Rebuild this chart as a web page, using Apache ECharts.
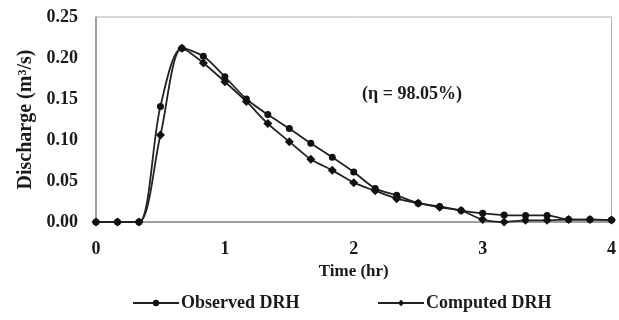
<!DOCTYPE html>
<html>
<head>
<meta charset="utf-8">
<script src="https://cdn.jsdelivr.net/npm/echarts@6/dist/echarts.min.js"></script>
<style>
  html, body { margin: 0; padding: 0; background: #fff; }
  #chart { width: 619px; height: 320px; }
</style>
</head>
<body>
<div id="chart"></div>
<script>
// time steps (hr), 10 min apart
const timeHr = [0, 1/6, 2/6, 3/6, 4/6, 5/6, 1, 7/6, 8/6, 9/6, 10/6, 11/6, 2,
  13/6, 14/6, 15/6, 16/6, 17/6, 3, 19/6, 20/6, 21/6, 22/6, 23/6, 4];
const observed = [0, 0, 0, 0.141, 0.212, 0.202, 0.177, 0.150, 0.131, 0.114, 0.096, 0.079, 0.061,
  0.041, 0.0325, 0.023, 0.019, 0.014, 0.0106, 0.0085, 0.008, 0.008, 0.003, 0.003, 0.0025];
const computed = [0, 0, 0, 0.106, 0.212, 0.194, 0.171, 0.147, 0.120, 0.098, 0.0765, 0.063, 0.048,
  0.038, 0.0285, 0.023, 0.018, 0.014, 0.003, 0, 0.002, 0.002, 0.003, 0.003, 0.0025];
const yTicks = ["0.00", "0.05", "0.10", "0.15", "0.20", "0.25"];

const font = "Liberation Serif";
const ink = "#1a1a1a";

const pairs = (ys) => ys.map((y, i) => [timeHr[i], y]);

const legendText = { fontFamily: font, fontWeight: "bold", fontSize: 18, color: ink, padding: [0, 0, 0, -3] };

const chart = echarts.init(document.getElementById("chart"));
chart.setOption({
  animation: false,
  grid: { left: 96, right: 6, top: 17, bottom: 98, show: true, borderColor: "#b0b0b0", borderWidth: 1 },
  legend: [
    { left: 132, top: 294, padding: 0, itemWidth: 46, itemHeight: 8, textStyle: legendText, data: ["Observed DRH"] },
    { left: 377, top: 294, padding: 0, itemWidth: 46, itemHeight: 8, textStyle: legendText, data: ["Computed DRH"] },
  ],
  xAxis: {
    type: "value",
    min: 0,
    max: 4,
    interval: 1,
    name: "Time (hr)",
    nameLocation: "middle",
    nameGap: 38,
    nameTextStyle: { fontFamily: font, fontWeight: "bold", fontSize: 17, color: ink },
    axisLine: { lineStyle: { color: "#8c8c8c", width: 1.5 } },
    axisTick: { show: false },
    splitLine: { show: false },
    axisLabel: { fontFamily: font, fontWeight: "bold", fontSize: 18, color: ink, margin: 18 },
  },
  yAxis: {
    type: "value",
    min: 0,
    max: 0.25,
    interval: 0.05,
    name: "Discharge (m³/s)",
    nameLocation: "middle",
    nameGap: 55,
    nameTextStyle: { fontFamily: font, fontWeight: "bold", fontSize: 20, color: ink },
    axisLine: { show: true, lineStyle: { color: "#8c8c8c", width: 1.5 } },
    axisTick: { show: false },
    splitLine: { show: false },
    axisLabel: {
      fontFamily: font, fontWeight: "bold", fontSize: 18, color: ink, margin: 18,
      formatter: (v) => yTicks[Math.round(v / 0.05)],
    },
  },
  graphic: [{
    type: "text",
    left: 362,
    top: 85,
    style: { text: "(η = 98.05%)", fontFamily: font, fontWeight: "bold", fontSize: 18, fill: ink },
  }],
  series: [
    {
      name: "Observed DRH",
      type: "line",
      smooth: 0.3,
      data: pairs(observed),
      symbol: "circle",
      symbolSize: 7,
      itemStyle: { color: "#111" },
      lineStyle: { color: "#222", width: 1.8 },
    },
    {
      name: "Computed DRH",
      type: "line",
      smooth: 0.3,
      data: pairs(computed),
      symbol: "diamond",
      symbolSize: 9,
      itemStyle: { color: "#111" },
      lineStyle: { color: "#222", width: 1.8 },
    },
  ],
});
</script>
</body>
</html>
